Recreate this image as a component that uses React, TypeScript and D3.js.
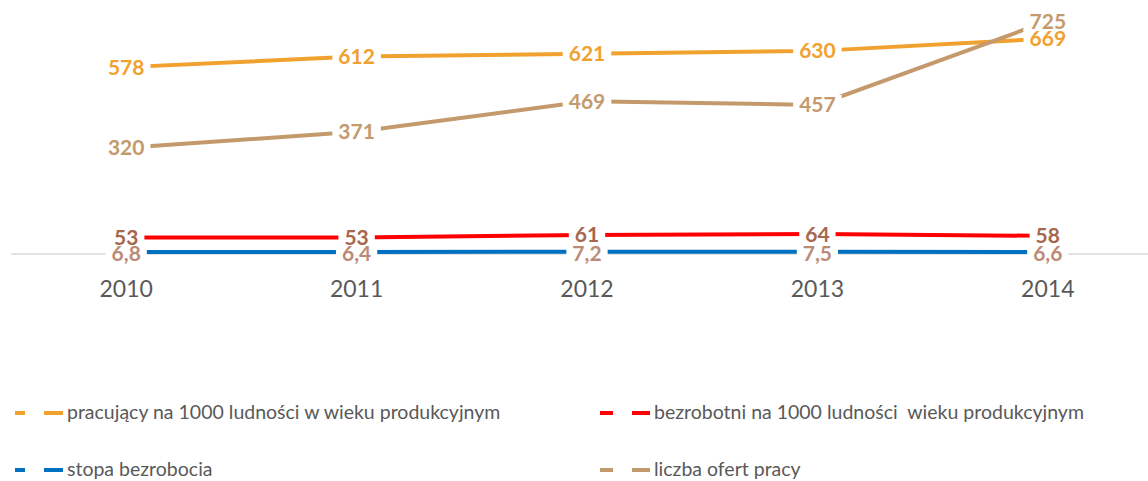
import React, { useEffect, useRef } from "react";
import * as d3 from "d3";

const years = ["2010", "2011", "2012", "2013", "2014"];
const pracujacy = [578, 612, 621, 630, 669];
const bezrobotni = [53, 53, 61, 64, 58];
const stopa = [6.8, 6.4, 7.2, 7.5, 6.6];
const oferty = [320, 371, 469, 457, 725];
const legendNames = [
  "pracujący na 1000 ludności w wieku produkcyjnym",
  "bezrobotni na 1000 ludności  wieku produkcyjnym",
  "stopa bezrobocia",
  "liczba ofert pracy",
];

const W = 1148;
const H = 481;

export default function App() {
  const ref = useRef<SVGSVGElement>(null);

  useEffect(() => {
    const svg = d3.select(ref.current);
    svg.selectAll("*").remove();

    const x = d3.scalePoint<string>().domain(years).range([11, 1163]).padding(0.5);
    const yPrim = d3.scaleLinear().domain([0, 800]).range([254, 4]);
    const ySec = d3.scaleLinear().domain([-20, 780]).range([254, 4]);

    const series = [
      { name: legendNames[0], values: pracujacy, color: "#F0A12E", label: "#F0A12E", y: ySec, dy: 7.5, fmt: (v: number) => String(v) },
      { name: legendNames[1], values: bezrobotni, color: "#FF0000", label: "#A8664C", y: yPrim, dy: 7.5, fmt: (v: number) => String(v) },
      { name: legendNames[2], values: stopa, color: "#0070C0", label: "#BC8B78", y: yPrim, dy: 9, fmt: (v: number) => v.toFixed(1).replace(".", ",") },
      { name: legendNames[3], values: oferty, color: "#C49A6C", label: "#C49A6C", y: ySec, dy: 7.5, fmt: (v: number) => String(v) },
    ];

    // gridline / category axis
    svg.append("line")
      .attr("x1", 11).attr("x2", 1163)
      .attr("y1", yPrim(0)).attr("y2", yPrim(0))
      .attr("stroke", "#D9D9D9").attr("stroke-width", 1.5);

    // axis labels
    svg.append("g").selectAll("text").data(years).join("text")
      .attr("x", (d) => x(d)!)
      .attr("y", 297)
      .attr("text-anchor", "middle")
      .attr("font-family", "Lato, sans-serif")
      .attr("font-size", 23)
      .attr("fill", "#595959")
      .text((d) => d);

    // lines
    series.forEach((s) => {
      const line = d3.line<number>()
        .x((_, i) => x(years[i])!)
        .y((v) => s.y(v));
      svg.append("path")
        .attr("d", line(s.values))
        .attr("fill", "none")
        .attr("stroke", s.color)
        .attr("stroke-width", 4);
    });

    // labels: backgrounds first, then text
    const bgLayer = svg.append("g");
    const txtLayer = svg.append("g");
    series.forEach((s) => {
      s.values.forEach((v, i) => {
        const cx = x(years[i])!;
        const cy = s.y(v);
        const t = txtLayer.append("text")
          .attr("x", cx)
          .attr("y", cy + s.dy)
          .attr("text-anchor", "middle")
          .attr("font-family", "Lato, sans-serif")
          .attr("font-weight", "bold")
          .attr("font-size", 21)
          .attr("fill", s.label)
          .text(s.fmt(v));
        const w = (t.node() as SVGTextElement).getComputedTextLength();
        bgLayer.append("rect")
          .attr("x", cx - w / 2 - 6)
          .attr("y", cy - 10)
          .attr("width", w + 12)
          .attr("height", 20)
          .attr("fill", "#FFFFFF");
      });
    });

    // legend
    const legendItems = [
      { s: series[0], segs: [[15, 25], [44, 63]], tx: 67, ly: 413, by: 419 },
      { s: series[1], segs: [[600, 613], [632, 650]], tx: 654, ly: 413, by: 419 },
      { s: series[2], segs: [[15, 25], [44, 63]], tx: 67, ly: 470, by: 476 },
      { s: series[3], segs: [[600, 613], [632, 650]], tx: 654, ly: 470, by: 476 },
    ];
    const lg = svg.append("g");
    legendItems.forEach((it) => {
      it.segs.forEach(([a, b]) => {
        lg.append("line")
          .attr("x1", a).attr("x2", b)
          .attr("y1", it.ly).attr("y2", it.ly)
          .attr("stroke", it.s.color).attr("stroke-width", 4);
      });
      lg.append("text")
        .attr("x", it.tx)
        .attr("y", it.by)
        .attr("font-family", "Lato, sans-serif")
        .attr("font-size", 19.5)
        .attr("fill", "#595959")
        .style("white-space", "pre")
        .text(it.s.name);
    });
  }, []);

  return (
    <svg
      ref={ref}
      width={W}
      height={H}
      style={{ position: "absolute", left: 0, top: 0, display: "block", overflow: "hidden", background: "#fff" }}
    />
  );
}
